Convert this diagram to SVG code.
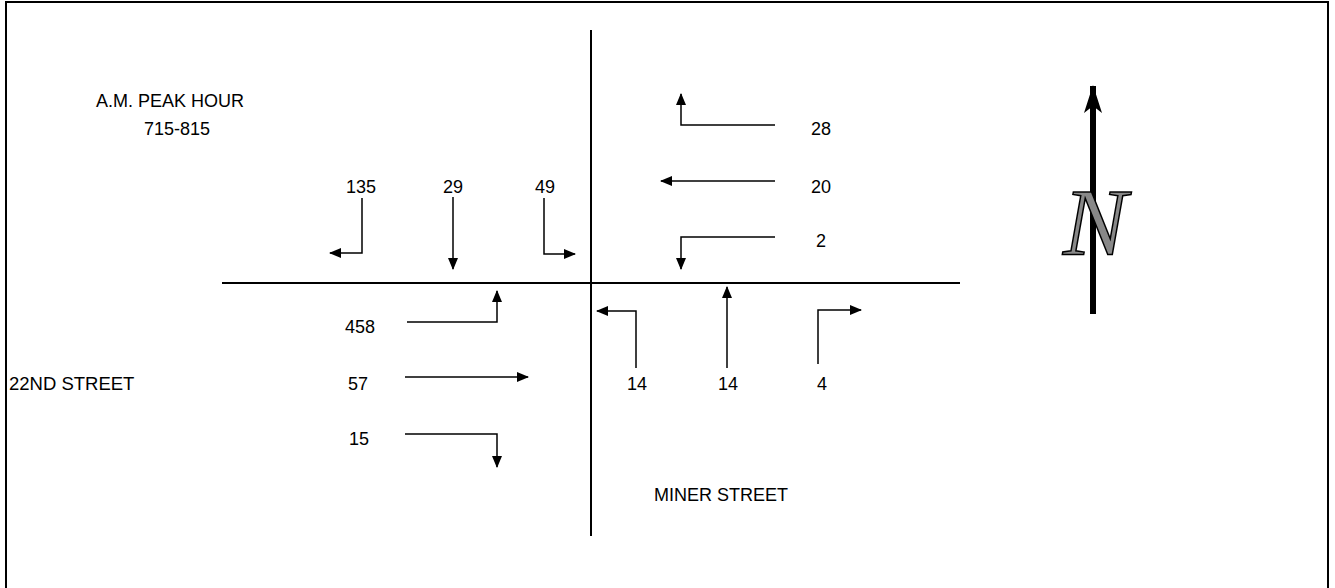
<svg xmlns="http://www.w3.org/2000/svg" width="1335" height="588" viewBox="0 0 1335 588">
<style>
text{font-family:"Liberation Sans",Arial,sans-serif;font-size:18px;fill:#000}
.c{text-anchor:middle}
.a{fill:none;stroke:#000;stroke-width:1.5;marker-end:url(#ah)}
.r{stroke:#000;stroke-width:2;fill:none}
</style>
<defs>
<marker id="ah" viewBox="0 0 12 10" refX="11" refY="5" markerWidth="12" markerHeight="10" markerUnits="userSpaceOnUse" orient="auto">
<path d="M0,0 L12,5 L0,10 Z" fill="#000"/>
</marker>
<marker id="nh" viewBox="0 0 28 18" refX="27" refY="9" markerWidth="28" markerHeight="18" markerUnits="userSpaceOnUse" orient="auto">
<path d="M0,0 L28,9 L0,18 L7,9 Z" fill="#000"/>
</marker>
</defs>
<rect x="6" y="2" width="1322" height="600" class="r"/>
<g id="roads">
<line x1="222" y1="283" x2="960" y2="283" class="r"/>
<line x1="591" y1="30" x2="591" y2="536" class="r"/>
</g>
<g id="labels">
<text x="170" y="107" class="c">A.M. PEAK HOUR</text>
<text x="177" y="135" class="c">715-815</text>
<text x="9" y="390" style="font-size:18.5px">22ND STREET</text>
<text x="721" y="501" class="c">MINER STREET</text>
</g>
<g id="connectors">
<path d="M362,198 V253 H330" class="a"/>
<path d="M453,197 V269" class="a"/>
<path d="M544,198 V254 H575" class="a"/>
<path d="M775,125 H681 V94" class="a"/>
<path d="M775,181 H661" class="a"/>
<path d="M775,237 H681 V269" class="a"/>
<path d="M407,322 H497 V291" class="a"/>
<path d="M405,377 H528" class="a"/>
<path d="M405,434 H497 V467" class="a"/>
<path d="M636,368 V311 H597" class="a"/>
<path d="M727,368 V287" class="a"/>
<path d="M818,364 V310 H861" class="a"/>
</g>
<g id="volumes">
<text x="361" y="193" class="c">135</text>
<text x="453" y="193" class="c">29</text>
<text x="545" y="193" class="c">49</text>
<text x="821" y="135" class="c">28</text>
<text x="821" y="193" class="c">20</text>
<text x="821" y="247" class="c">2</text>
<text x="360" y="333" class="c">458</text>
<text x="358" y="390" class="c">57</text>
<text x="359" y="445" class="c">15</text>
<text x="637" y="390" class="c">14</text>
<text x="728" y="390" class="c">14</text>
<text x="822" y="390" class="c">4</text>
</g>
<g id="north">
<line x1="1093" y1="314" x2="1093" y2="86" stroke="#000" stroke-width="6" marker-end="url(#nh)"/>
<text x="1095" y="255" class="c" style="font-family:'Liberation Serif',serif;font-size:96px;font-style:italic;fill:#888;stroke:#000;stroke-width:1.5">N</text>
</g>
</svg>
